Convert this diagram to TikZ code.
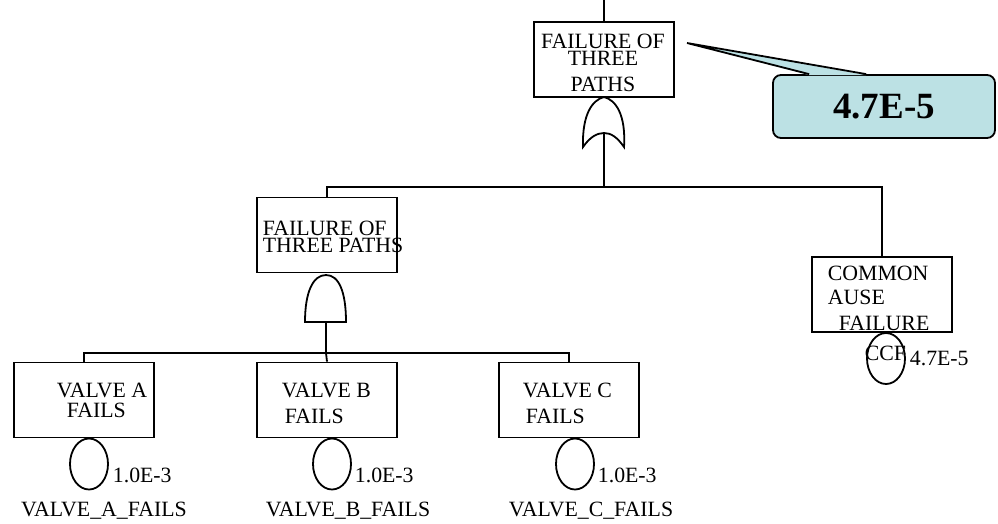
\documentclass[tikz,border=0pt]{standalone}
\usepackage{fontspec}
\setmainfont{Liberation Serif}
\usetikzlibrary{shapes.geometric,calc}
\definecolor{Callout}{HTML}{BCE1E4}

\begin{document}
\begin{tikzpicture}[x=1pt,y=-1pt,line width=1.8pt,
    event/.style={draw,minimum width=140pt,minimum height=75pt,inner sep=0pt},
    basic/.style={draw,ellipse,minimum width=38pt,minimum height=51pt,inner sep=0pt},
    txt/.style={inner sep=0pt,anchor=base west,font=\fontsize{21.8}{22}\selectfont},
    ctxt/.style={txt,anchor=base}
  ]
    \useasboundingbox (0,0) rectangle (998,523);
    % event boxes
    \node[event] (top) at (604,59.5) {};
    \node[event] (paths) at (327,235) {};
    \node[event] (ccfbox) at (882,294.5) {};
    \node[event] (valA) at (84,400) {};
    \node[event] (valB) at (327,400) {};
    \node[event] (valC) at (569,400) {};
    % box texts
    \node[ctxt] (t1) at (603,48) {FAILURE OF};
    \node[ctxt] (t2) at (603,65) {THREE};
    \node[ctxt] (t3) at (603,91) {PATHS};
    \node[txt] (p1) at (262,235) {FAILURE OF};
    \node[txt] (p2) at (262,252) {THREE PATHS};
    \node[txt] (c1) at (827,280) {COMMON};
    \node[txt] (c2) at (827,304) {AUSE};
    \node[txt] (c3) at (838,330) {FAILURE};
    \node[txt] (a1) at (56,397) {VALVE A};
    \node[txt] (a2) at (66,417) {FAILS};
    \node[txt] (b1) at (281,397) {VALVE B};
    \node[txt] (b2) at (284,423) {FAILS};
    \node[txt] (v1) at (522,397) {VALVE C};
    \node[txt] (v2) at (525,423) {FAILS};
    % gates
    \coordinate (orout) at (604,97);
    \coordinate (orin) at (604,133);
    \draw (583,147) .. controls (582,115) and (592,100) .. (orout)
      .. controls (616,100) and (626,115) .. (624,147)
      .. controls (617,137) and (611,133) .. (orin)
      .. controls (597,133) and (590,137) .. (583,147) -- cycle;
    \coordinate (andout) at (326,275);
    \coordinate (andin) at (326,322);
    \draw (305,322) .. controls (305,292) and (313,275) .. (andout)
      .. controls (339,275) and (346,292) .. (346,322) -- cycle;
    % connectors
    \coordinate (topin) at (604,0);
    \coordinate (busA) at (604,187);
    \coordinate (busB) at (326,353);
    \draw (topin) -- (top);
    \draw (orin) -- (busA);
    \draw (paths.north) |- (busA) -| (ccfbox.north);
    \draw (andin) -- (busB);
    \draw (valA.north) |- (busB) -| (valC.north);
    \draw (busB) -- (valB.north);
    % basic events
    \node[basic] (ccf) at (886,358.5) {};
    \node[basic] (evA) at (89,464) {};
    \node[basic] (evB) at (332,464) {};
    \node[basic] (evC) at (575,464) {};
    \node[txt] (ccflbl) at (864,360) {CCF};
    \node[txt] (ccfp) at (909,365) {4.7E-5};
    \node[txt] (pA) at (112,482) {1.0E-3};
    \node[txt] (pB) at (354,482) {1.0E-3};
    \node[txt] (pC) at (597,482) {1.0E-3};
    \node[ctxt] (nA) at (104,516) {VALVE\_A\_FAILS};
    \node[ctxt] (nB) at (348,516) {VALVE\_B\_FAILS};
    \node[ctxt] (nC) at (591,516) {VALVE\_C\_FAILS};
    % callout
    \node[draw,rounded corners=8pt,fill=Callout,minimum width=222pt,minimum height=63pt,
      font=\bfseries\fontsize{37}{37}\selectfont] (prob) at (884,106.5) {\raisebox{-4pt}{4.7E-5}};
    \coordinate (tip) at (687,43);
    \fill[Callout] ($(prob.north west)+(37,1)$) -- (tip) -- ($(prob.north west)+(94,1)$) -- cycle;
    \draw ($(prob.north west)+(37,0)$) -- (tip) -- ($(prob.north west)+(94,0)$);
  \end{tikzpicture}
\end{document}
